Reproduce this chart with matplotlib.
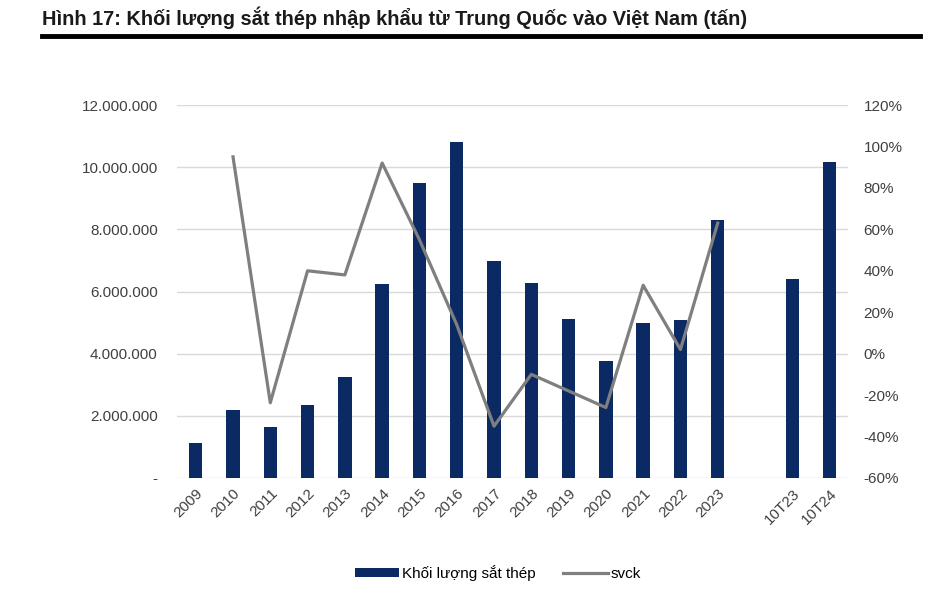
import matplotlib.pyplot as plt
import matplotlib.ticker as mticker
import numpy as np

plt.rcParams['font.family'] = ['Liberation Sans', 'DejaVu Sans']

# dữ liệu
categories = ['2009', '2010', '2011', '2012', '2013', '2014', '2015', '2016',
              '2017', '2018', '2019', '2020', '2021', '2022', '2023', '', '10T23', '10T24']
volume = [1130000, 2190000, 1640000, 2350000, 3250000, 6240000, 9490000, 10800000,
          6980000, 6270000, 5110000, 3760000, 4980000, 5080000, 8300000, np.nan,
          6400000, 10160000]
svck = [np.nan, 0.95, -0.237, 0.40, 0.38, 0.92, 0.55, 0.14,
        -0.35, -0.10, -0.18, -0.26, 0.33, 0.02, 0.63, np.nan,
        np.nan, np.nan]

fig = plt.figure(figsize=(9.52, 5.92), dpi=100)
ax = fig.add_axes([0.186, 0.1926, 0.705, 0.63])
ax2 = ax.twinx()

x = np.arange(len(categories))
bars = ax.bar(x, volume, width=0.36, color='#0b2a63', zorder=3, label='Khối lượng sắt thép')
line, = ax2.plot(x, svck, color='#7f7f7f', lw=2.3, zorder=4, label='svck')

ax.set_xlim(-0.5, len(categories) - 0.5)
ax.set_ylim(0, 12000000)
ax.set_yticks(np.arange(0, 12000001, 2000000))
ax.yaxis.set_major_formatter(mticker.FuncFormatter(
    lambda v, p: '-' if v == 0 else f'{int(v):,}'.replace(',', '.')))
ax2.set_ylim(-0.6, 1.2)
ax2.set_yticks(np.arange(-0.6, 1.21, 0.2))
ax2.yaxis.set_major_formatter(mticker.FuncFormatter(lambda v, p: f'{v * 100:.0f}%'))

ax.grid(axis='y', color='#d9d9d9', lw=1, zorder=0)
ax.set_xticks(x)
ax.set_xticklabels(categories, rotation=45, ha='right', rotation_mode='anchor')
for a in (ax, ax2):
    for s in a.spines.values():
        s.set_visible(False)
    a.tick_params(length=0, labelsize=11, colors='#404040')
ax.tick_params(axis='y', pad=14)
ax2.tick_params(axis='y', pad=11)
ax.tick_params(axis='x', pad=6)

fig.legend([bars, line], ['Khối lượng sắt thép', 'svck'], loc='center',
           bbox_to_anchor=(0.523, 0.032), ncol=2, frameon=False, fontsize=11,
           handlelength=2.9, handleheight=0.5, columnspacing=1.8, handletextpad=0.2)

fig.text(0.044, 0.97, 'Hình 17: Khối lượng sắt thép nhập khẩu từ Trung Quốc vào Việt Nam (tấn)',
         fontsize=14.4, fontweight='bold', ha='left', va='center', color='#1a1a1a')
fig.add_artist(plt.Line2D([0.044, 0.966], [0.94, 0.94], color='black', lw=3.5))

fig.savefig('out.png', dpi=100)
